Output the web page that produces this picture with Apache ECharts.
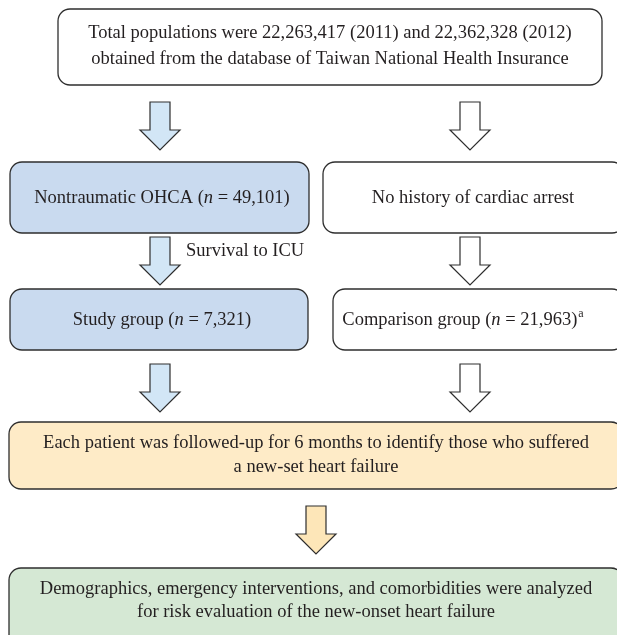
<!DOCTYPE html>
<html>
<head>
<meta charset="utf-8">
<script src="https://cdn.jsdelivr.net/npm/echarts@6/dist/echarts.min.js"></script>
<style>
  html, body { margin: 0; padding: 0; background: #fff; }
  #chart { width: 617px; height: 635px; }
</style>
</head>
<body>
<div id="chart"></div>
<script>
// box texts, top to bottom, left column then right column
const topText = 'Total populations were 22,263,417 (2011) and 22,362,328 (2012)\nobtained from the database of Taiwan National Health Insurance';
const leftTexts = ['Nontraumatic OHCA ({i|n} = 49,101)', 'Study group ({i|n} = 7,321)'];
const rightTexts = ['No history of cardiac arrest', 'Comparison group ({i|n} = 21,963){sup|a}'];
const followText = 'Each patient was followed-up for 6 months to identify those who suffered\na new-set heart failure';
const finalText = 'Demographics, emergency interventions, and comorbidities were analyzed\nfor risk evaluation of the new-onset heart failure';
const arrowLabels = ['Survival to ICU'];

const FONT = '"Liberation Serif", "DejaVu Serif", serif';
const FS = 18.5;
const stroke = '#2e2e2e';
const blueBox = '#c9daef';
const blueArrow = '#d2e6f6';
const yellowBox = '#feebc7';
const yellowArrow = '#fde6b8';
const greenBox = '#d5e8d4';

const rich = {
  i: { fontStyle: 'italic', fontSize: FS, fontFamily: FONT, fill: '#231f20' },
  sup: { fontSize: 12, fontFamily: FONT, fill: '#231f20', verticalAlign: 'top', padding: [0, 0, 10, 1] }
};

function box (x, y, w, h, fill) {
  return {
    type: 'rect',
    shape: { x: x, y: y, width: w, height: h, r: 12 },
    style: { fill: fill, stroke: stroke, lineWidth: 1.3 }
  };
}

function label (text, cx, cy, lh) {
  return {
    type: 'text',
    style: {
      text: text, x: cx, y: cy,
      align: 'center', verticalAlign: 'middle',
      fontSize: FS, fontFamily: FONT, fill: '#231f20',
      lineHeight: lh || 24,
      rich: rich
    }
  };
}

// down arrow, top at y, centred on cx
function arrow (cx, y, fill) {
  const sw = 10, hw = 20, len = 48, hh = 20;
  return {
    type: 'polygon',
    shape: {
      points: [
        [cx - sw, y], [cx + sw, y], [cx + sw, y + len - hh], [cx + hw, y + len - hh],
        [cx, y + len], [cx - hw, y + len - hh], [cx - sw, y + len - hh]
      ]
    },
    style: { fill: fill, stroke: stroke, lineWidth: 1.2 }
  };
}

const elements = [
  box(58, 9, 544, 76, '#fff'),
  label(topText, 330, 46, 26),

  arrow(160, 102, blueArrow),
  arrow(470, 102, '#fff'),

  box(10, 162, 299, 71, blueBox),
  label(leftTexts[0], 162, 198),
  box(323, 162, 301, 71, '#fff'),
  label(rightTexts[0], 473, 198),

  arrow(160, 237, blueArrow),
  arrow(470, 237, '#fff'),
  {
    type: 'text',
    style: { text: arrowLabels[0], x: 186, y: 251, verticalAlign: 'middle', fontSize: FS, fontFamily: FONT, fill: '#231f20' }
  },

  box(10, 289, 298, 61, blueBox),
  label(leftTexts[1], 162, 320),
  box(333, 289, 291, 61, '#fff'),
  label(rightTexts[1], 463, 320),

  arrow(160, 364, blueArrow),
  arrow(470, 364, '#fff'),

  box(9, 422, 614, 67, yellowBox),
  label(followText, 316, 455, 24),

  arrow(316, 506, yellowArrow),

  box(9, 568, 614, 80, greenBox),
  label(finalText, 316, 601, 23)
];

const chart = echarts.init(document.getElementById('chart'));
chart.setOption({
  animation: false,
  graphic: { elements: elements }
});
</script>
</body>
</html>
